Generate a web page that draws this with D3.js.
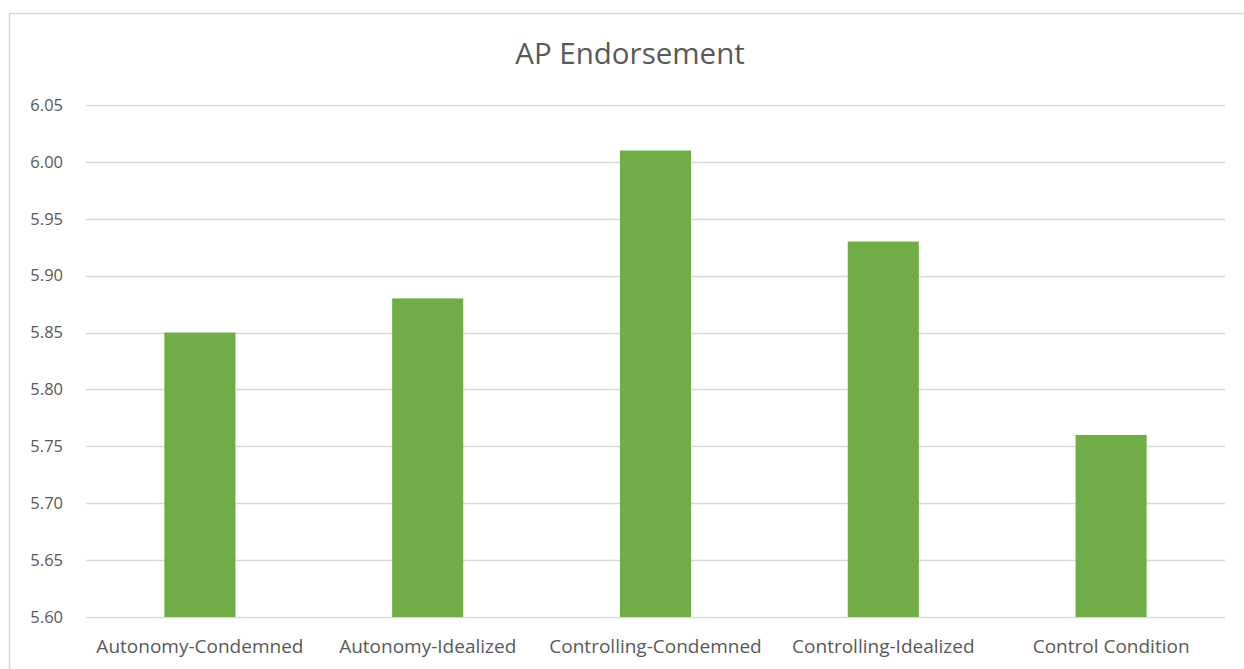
<!DOCTYPE html>
<html><head><meta charset="utf-8">
<script src="https://cdn.jsdelivr.net/npm/d3@7"></script>
<style>body{margin:0;background:#fff;}svg{display:block;}</style>
</head><body>
<script>
const categories = ["Autonomy-Condemned","Autonomy-Idealized","Controlling-Condemned","Controlling-Idealized","Control Condition"];
const values = [5.85, 5.88, 6.01, 5.93, 5.76];
const yTicks = [5.60,5.65,5.70,5.75,5.80,5.85,5.90,5.95,6.00,6.05];
const title = "AP Endorsement";

const W = 1244, H = 669;
const font = "'Open Sans', sans-serif";
const svg = d3.select("body").append("svg").attr("width", W).attr("height", H);
svg.append("rect").attr("x",9.5).attr("y",13.5).attr("width",1300).attr("height",700)
  .attr("fill","#fff").attr("stroke","#d9d9d9").attr("stroke-width",1.5);

const x = d3.scaleBand().domain(categories).range([86,1225]).paddingInner(0.688).paddingOuter(0.344);
const y = d3.scaleLinear().domain([5.60,6.05]).range([617,105]);

const grid = svg.append("g");
grid.selectAll("line").data(yTicks).join("line")
  .attr("x1",86).attr("x2",1225)
  .attr("y1",d=>Math.round(y(d))+0.5).attr("y2",d=>Math.round(y(d))+0.5)
  .attr("stroke","#d9d9d9").attr("stroke-width",1.5);

svg.append("g").selectAll("rect").data(values).join("rect")
  .attr("x",(d,i)=>x(categories[i]))
  .attr("width",x.bandwidth())
  .attr("y",d=>y(d))
  .attr("height",d=>y(5.60)-y(d))
  .attr("fill","#70ad47");

const yAxis = d3.axisLeft(y).tickValues(yTicks).tickFormat(d3.format(".2f")).tickSize(0).tickPadding(0);
const ya = svg.append("g").attr("transform","translate(63,0)").call(yAxis);
ya.select(".domain").remove();
ya.selectAll("text").attr("font-family",font).attr("font-size",16.5).attr("fill","#595959");

const xAxis = d3.axisBottom(x).tickSize(0).tickPadding(0);
const xa = svg.append("g").attr("transform","translate(0,0)").call(xAxis);
xa.select(".domain").remove();
xa.selectAll("text").attr("y",653).attr("dy",0).attr("font-family",font).attr("font-size",19).attr("fill","#595959");

svg.append("text").attr("x",630).attr("y",64).attr("text-anchor","middle")
  .attr("font-family",font).attr("font-size",29.5).attr("fill","#595959").text(title);
</script>
</body></html>
